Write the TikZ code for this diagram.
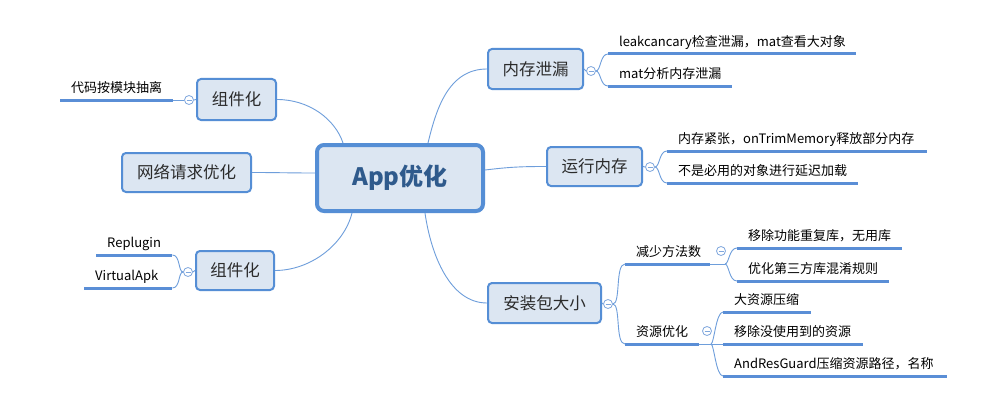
\documentclass[tikz,border=0pt]{standalone}
\usepackage{fontspec}
\setmainfont{Noto Sans CJK SC}
\usetikzlibrary{calc}
\definecolor{boxfill}{HTML}{DCE6F2}
\definecolor{boxline}{HTML}{558ED5}
\definecolor{linkc}{HTML}{6E9EDB}
\definecolor{ulc}{HTML}{5A8ED6}
\definecolor{cent}{HTML}{2F5A8C}
\definecolor{txt}{HTML}{2B2B2B}
\definecolor{togc}{HTML}{7FA7DD}
\begin{document}
\begin{tikzpicture}[x=1pt,y=-1pt,
  mainbox/.style={draw=boxline, line width=2pt, fill=boxfill, rounded corners=4pt,
    inner sep=0pt, text=txt, font=\fontsize{16.5}{18}\selectfont},
  central/.style={draw=boxline, line width=4pt, fill=boxfill, rounded corners=7pt,
    inner sep=0pt, text=cent, font=\fontsize{24}{28}\selectfont\bfseries},
  leaf/.style={anchor=south west, inner xsep=11pt, inner ysep=4.6pt, text height=10pt,
    text depth=3pt, align=left, text=black, font=\fontsize{13}{15}\selectfont},
  uline/.style={draw=ulc, line width=3pt},
  link/.style={draw=linkc, line width=0.9pt},
  tog/.style={circle, draw=togc, fill=white, line width=0.8pt, minimum size=9pt, inner sep=0pt,
    path picture={\draw[togc, line width=0.8pt] ([xshift=-2.5pt]path picture bounding box.center) -- ([xshift=2.5pt]path picture bounding box.center);}}
]
\useasboundingbox[fill=white] (0,0) rectangle (1004,412);

% main nodes
\node[central, minimum width=166pt, minimum height=66pt] (cen) at (400,178) {App优化};
\node[mainbox, minimum width=79pt, minimum height=41pt] (zu1) at (236.5,99.5) {组件化};
\node[mainbox, minimum width=129pt, minimum height=39pt] (net) at (186.5,172.5) {网络请求优化};
\node[mainbox, minimum width=78pt, minimum height=39pt] (zu2) at (235,270.5) {组件化};
\node[mainbox, minimum width=95pt, minimum height=40pt] (mem) at (535.5,69) {内存泄漏};
\node[mainbox, minimum width=95pt, minimum height=39pt] (run) at (594.5,166.5) {运行内存};
\node[mainbox, minimum width=113pt, minimum height=40pt] (apk) at (544.5,303) {安装包大小};

% toggles
\node[tog] (c1) at (189,100) {};
\node[tog] (c3) at (188,272) {};
\node[tog] (c4) at (591,71) {};
\node[tog] (c5) at (650,167) {};
\node[tog] (c6) at (608,304) {};
\node[tog] (c7) at (721,251) {};
\node[tog] (c8) at (707,331) {};

% leaves
\node[leaf, text width=91pt] (L1) at (60,100) {代码按模块抽离};
\node[leaf, text width=54pt] (L2) at (96,255) {Replugin};
\node[leaf, text width=66pt] (L3) at (84,288) {VirtualApk};
\node[leaf, text width=226pt] (R1) at (608,54) {leakcancary检查泄漏，mat查看大对象};
\node[leaf, text width=102pt] (R2) at (608,86) {mat分析内存泄漏};
\node[leaf, text width=238pt] (R3) at (667,151) {内存紧张，onTrimMemory释放部分内存};
\node[leaf, text width=169pt] (R4) at (667,183) {不是必用的对象进行延迟加载};
\node[leaf, text width=63pt] (S1) at (625,264) {减少方法数};
\node[leaf, text width=52pt] (S2) at (625,344) {资源优化};
\node[leaf, text width=143pt] (T1) at (737,248) {移除功能重复库，无用库};
\node[leaf, text width=130pt] (T2) at (737,281) {优化第三方库混淆规则};
\node[leaf, text width=66pt] (T3) at (723,312) {大资源压缩};
\node[leaf, text width=118pt] (T4) at (723,344) {移除没使用到的资源};
\node[leaf, text width=202pt] (T5) at (723,376) {AndResGuard压缩资源路径，名称};

\coordinate (j1) at (725,264);
\coordinate (j2) at (711,344);

% underlines
\foreach \n in {L1,L2,L3,R1,R2,R3,R4,S1,S2,T1,T2,T3,T4,T5}
  \draw[uline] (\n.south west) -- (\n.south east);

% central links
\draw[link] ([xshift=28pt]cen.north) .. controls +(8,-33) and +(-39,0) .. (mem.west);
\draw[link] ([yshift=8pt]cen.east) .. controls +(25,-3) and +(-25,0) .. (run.west);
\draw[link] ([xshift=25pt]cen.south) .. controls +(6,42) and +(-37,0) .. (apk.west);
\draw[link] ([xshift=-57pt]cen.north) .. controls +(-8,-24) and +(32,0) .. (zu1.east);
\draw[link] ([yshift=5pt]cen.west) .. controls +(-25,0) and +(25,0) .. (net.east);
\draw[link] ([xshift=-48pt]cen.south) .. controls +(-8,32) and +(35,0) .. (zu2.east);

% branch links
\draw[link] (zu1.west) -- (c1.east);
\draw[link] (c1.west) -- (L1.south east);
\draw[link] (zu2.west) -- (c3.east);
\draw[link] (c3.west) .. controls +(-5,0) and +(8,0) .. (L2.south east);
\draw[link] (c3.west) .. controls +(-5,0) and +(8,0) .. (L3.south east);
\draw[link] (mem.east) -- (c4.west);
\draw[link] (c4.east) .. controls +(5,0) and +(-8,0) .. (R1.south west);
\draw[link] (c4.east) .. controls +(5,0) and +(-8,0) .. (R2.south west);
\draw[link] (run.east) -- (c5.west);
\draw[link] (c5.east) .. controls +(5,0) and +(-8,0) .. (R3.south west);
\draw[link] (c5.east) .. controls +(5,0) and +(-8,0) .. (R4.south west);
\draw[link] (apk.east) -- (c6.west);
\draw[link] (c6.east) .. controls +(8,0) and +(-10,0) .. (S1.south west);
\draw[link] (c6.east) .. controls +(8,0) and +(-10,0) .. (S2.south west);
\draw[link] (S1.south east) -- (j1);
\draw[link] (j1) .. controls +(4,0) and +(-8,0) .. (T1.south west);
\draw[link] (j1) .. controls +(4,0) and +(-8,0) .. (T2.south west);
\draw[link] (S2.south east) -- (T4.south west);
\draw[link] (j2) .. controls +(3,0) and +(-7,0) .. (T3.south west);
\draw[link] (j2) .. controls +(3,0) and +(-7,0) .. (T5.south west);
\end{tikzpicture}
\end{document}
